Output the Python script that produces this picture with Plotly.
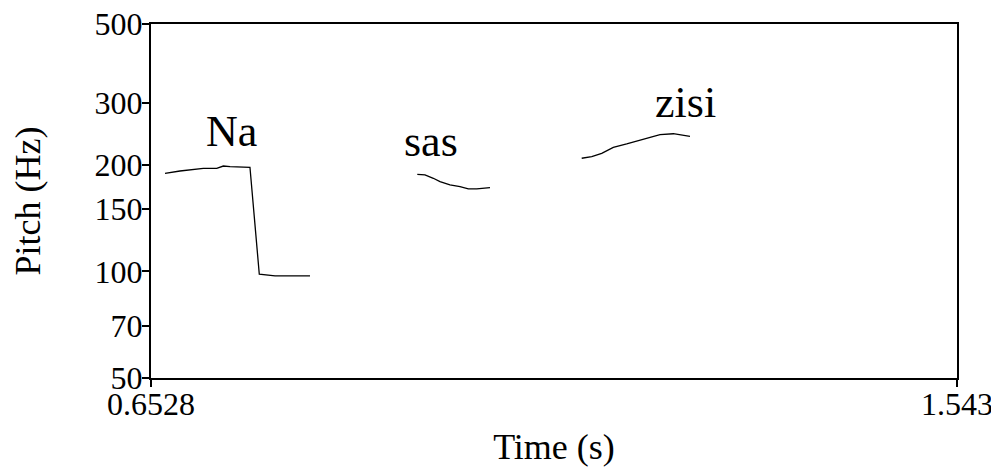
import math
import plotly.graph_objects as go

# pitch contour readings (time in s, pitch in Hz)
na_time = [0.6683, 0.6848, 0.7106, 0.7254, 0.7327, 0.7401, 0.7621, 0.7724, 0.7898, 0.8284]
na_pitch = [189.3, 192.2, 195.6, 195.6, 198.5, 197.7, 196.9, 98.2, 97.1, 97.1]

sas_time = [0.9469, 0.9554, 0.9646, 0.9720, 0.9830, 0.9941, 1.0033, 1.0125, 1.0272]
sas_pitch = [188.1, 187.3, 183.3, 179.3, 175.5, 173.5, 171.0, 171.2, 172.4]

zisi_time = [1.1285, 1.1396, 1.1506, 1.1634, 1.1782, 1.1929, 1.2039, 1.2150, 1.2297, 1.2408, 1.2481]
zisi_pitch = [208.8, 210.9, 215.6, 224.2, 229.1, 235.1, 239.3, 243.4, 244.9, 242.4, 240.9]

labels = ["Na", "sas", "zisi"]
label_time = [0.7412, 0.9620, 1.2426]
label_pitch = [247.7, 233.6, 301.0]

x_min, x_max = 0.6528, 1.543
y_ticks = [50, 70, 100, 150, 200, 300, 500]

serif = "Liberation Serif"
tick_font = dict(family=serif, size=32, color="black")
title_font = dict(family=serif, size=36, color="black")

fig = go.Figure()
for t, p in [(na_time, na_pitch), (sas_time, sas_pitch), (zisi_time, zisi_pitch)]:
    fig.add_trace(go.Scatter(x=t, y=p, mode="lines", line=dict(color="black", width=1.3),
                             showlegend=False, hoverinfo="skip"))

# annotations on a log axis take log10 positions
for txt, t, p in zip(labels, label_time, label_pitch):
    fig.add_annotation(x=t, y=math.log10(p), text=txt, showarrow=False,
                       font=dict(family=serif, size=44, color="black"))

axis_style = dict(showgrid=False, zeroline=False, showline=True, linecolor="black", linewidth=2,
                  mirror=True, ticks="outside", ticklen=7, tickwidth=2, tickcolor="black",
                  tickfont=tick_font, automargin=False, ticklabeloverflow="allow")

# page body has an 8px margin, so the figure is 8px smaller than the window
fig.update_layout(
    width=991, height=463,
    margin=dict(l=143, r=42, t=16, b=93),
    paper_bgcolor="white", plot_bgcolor="white",
    font=tick_font,
    hovermode=False,
    xaxis=dict(range=[x_min, x_max], tickvals=[x_min, x_max], ticktext=["0.6528", "1.543"],
               ticklabelstandoff=-10,
               title=dict(text="Time (s)", font=title_font, standoff=12), **axis_style),
    yaxis=dict(type="log", range=[math.log10(50), math.log10(500)], tickvals=y_ticks,
               ticktext=[str(v) for v in y_ticks], ticklabelstandoff=-7,
               title=dict(text="Pitch (Hz)", font=title_font, standoff=52), **axis_style),
)

fig.write_html("out.html")
